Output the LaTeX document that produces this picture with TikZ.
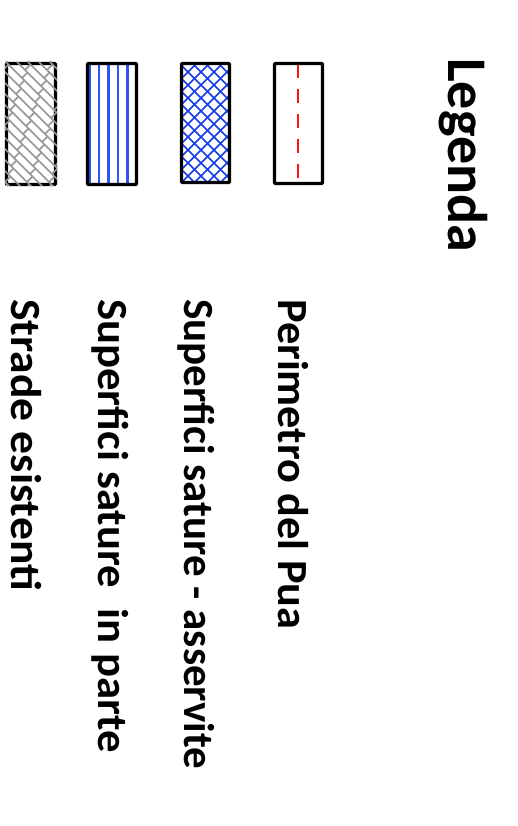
\documentclass[tikz,border=0pt]{standalone}
\usepackage{fontspec}
\setmainfont{Carlito}
\begin{document}
\begin{tikzpicture}[x=1pt,y=1pt,
  box/.style={draw=black,line width=3.4pt,rounded corners=1pt},
  lbl/.style={inner sep=0pt,anchor=base west,rotate=-90,font=\fontsize{43}{50}\selectfont\bfseries},
  ttl/.style={inner sep=0pt,anchor=base west,rotate=-90,font=\fontsize{56}{64}\selectfont\bfseries}]
\definecolor{hatchblue}{RGB}{20,60,230}
\definecolor{lineblue}{RGB}{45,85,245}
\definecolor{roadgray}{RGB}{150,150,150}
\definecolor{perred}{RGB}{255,20,20}
\useasboundingbox (0,0) rectangle (518,826);
\fill[white] (0,0) rectangle (518,826);
% title
\node[ttl] (legenda) at (448,768) {Legenda};
% Perimetro del Pua
\draw[perred,line width=2.8pt,dash pattern=on 14pt off 11pt] (298,762) -- (298,643);
\draw[box] (274.5,642.5) rectangle (322.5,762.5);
\node[lbl] (perimetro) at (278,527) {\scalebox{1.03}[1]{Perimetro del Pua}};
% Superfici sature - asservite
\begin{scope}
\clip (181.5,643.5) rectangle (229.5,762.5);
\foreach \k in {-12,...,12}{
  \draw[hatchblue,line width=1.7pt] (181.5+13*\k,643.5) -- ++(130,130);
  \draw[hatchblue,line width=1.7pt] (181.5+13*\k,643.5) -- ++(-130,130);
}
\end{scope}
\draw[box] (181.5,643.5) rectangle (229.5,762.5);
\node[lbl] (asservite) at (184,527) {Superfici sature - asservite};
% Superfici sature in parte
\foreach \xx in {89.5,99,108.5,118,127.5}{
  \draw[lineblue,line width=2.2pt] (\xx,641.5) -- (\xx,762.5);
}
\draw[box] (87.5,641.5) rectangle (136.5,762.5);
\node[lbl] (inparte) at (98,527) {\scalebox{1.04}[1]{Superfici sature\ \ in parte}};
% Strade esistenti
\draw[box] (6.5,641.5) rectangle (55.5,762.5);
\begin{scope}
\clip (5,640) rectangle (57,764);
\foreach \k in {-13,...,6}{
  \draw[roadgray,line width=1.5pt] (6+11*\k,764) -- ++(130,-130);
  \foreach \j in {0,...,9}{
    \pgfmathsetmacro{\tt}{16*\j+8*mod(abs(\k),2)}
    \draw[roadgray,line width=1.5pt] (6+11*\k+\tt,764-\tt) -- ++(5.5,5.5);
  }
}
\end{scope}
\node[lbl] (strade) at (11,527) {\scalebox{1.06}[1]{Strade esistenti}};
\end{tikzpicture}
\end{document}
